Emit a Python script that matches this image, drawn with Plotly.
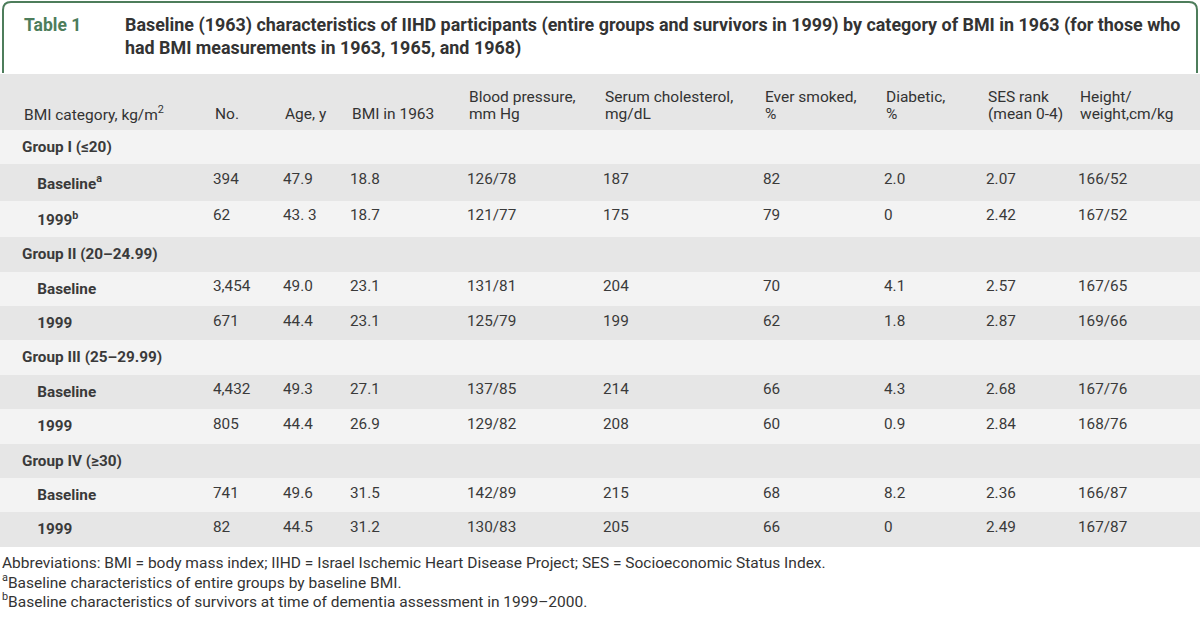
import plotly.graph_objects as go

W, H = 1200, 620

table_label = "Table 1"
title_lines = [
    "Baseline (1963) characteristics of IIHD participants (entire groups and survivors in 1999) by category of BMI in 1963 (for those who",
    "had BMI measurements in 1963, 1965, and 1968)",
]

headers = [
    ["", "BMI category, kg/m<sup>2</sup>"], ["", "No."], ["", "Age, y"], ["", "BMI in 1963"],
    ["Blood pressure,", "mm Hg"], ["Serum cholesterol,", "mg/dL"], ["Ever smoked,", "%"],
    ["Diabetic,", "%"], ["SES rank", "(mean 0-4)"], ["Height/", "weight,cm/kg"],
]

groups = ["Group I (≤20)", "Group II (20–24.99)", "Group III (25–29.99)", "Group IV (≥30)"]
sub_labels = [["Baseline<sup>a</sup>", "1999<sup>b</sup>"], ["Baseline", "1999"], ["Baseline", "1999"], ["Baseline", "1999"]]

n_count = [["394", "62"], ["3,454", "671"], ["4,432", "805"], ["741", "82"]]
age = [["47.9", "43. 3"], ["49.0", "44.4"], ["49.3", "44.4"], ["49.6", "44.5"]]
bmi = [["18.8", "18.7"], ["23.1", "23.1"], ["27.1", "26.9"], ["31.5", "31.2"]]
bp = [["126/78", "121/77"], ["131/81", "125/79"], ["137/85", "129/82"], ["142/89", "130/83"]]
chol = [["187", "175"], ["204", "199"], ["214", "208"], ["215", "205"]]
smoked = [["82", "79"], ["70", "62"], ["66", "60"], ["68", "66"]]
diabetic = [["2.0", "0"], ["4.1", "1.8"], ["4.3", "0.9"], ["8.2", "0"]]
ses = [["2.07", "2.42"], ["2.57", "2.87"], ["2.68", "2.84"], ["2.36", "2.49"]]
hw = [["166/52", "167/52"], ["167/65", "169/66"], ["167/76", "168/76"], ["166/87", "167/87"]]

footnotes = [
    "Abbreviations: BMI = body mass index; IIHD = Israel Ischemic Heart Disease Project; SES = Socioeconomic Status Index.",
    "<sup>a</sup>Baseline characteristics of entire groups by baseline BMI.",
    "<sup>b</sup>Baseline characteristics of survivors at time of dementia assessment in 1999–2000.",
]

# ---- build table columns ----
NB = "\u00a0"
label_col = []
value_cols = [[] for _ in range(9)]
series = [n_count, age, bmi, bp, chol, smoked, diabetic, ses, hw]
for gi, g in enumerate(groups):
    label_col.append("<b>" + g + "</b>")
    for c in value_cols:
        c.append("")
    for si in range(2):
        label_col.append(NB * 4 + "<b>" + sub_labels[gi][si] + "</b>")
        for ci, s in enumerate(series):
            value_cols[ci].append(s[gi][si])

nrows = len(label_col)
spacer = [""] * nrows
columns = [spacer, label_col] + value_cols

LIGHT, GRAY = "#f3f3f3", "#e6e6e6"
row_colors = [LIGHT if i % 2 == 0 else GRAY for i in range(nrows)]
fill = [row_colors for _ in columns]

col_widths = [14, 191, 70, 67, 117, 136, 160, 121, 102, 92, 130]

FONT = "Roboto"
TXT = "#3a3a3a"
HEAD_TOP = 74

def py(px):
    return 1 - px / H

def px_x(px):
    return px / W

fig = go.Figure()
fig.add_trace(go.Table(
    domain=dict(x=[0, 1], y=[0.05, py(HEAD_TOP)]),
    columnwidth=col_widths,
    header=dict(
        values=[""] * len(columns),
        fill=dict(color=GRAY),
        line=dict(width=0, color=GRAY),
        align="left",
        height=56,
        font=dict(family=FONT, size=15, color="#333333"),
    ),
    cells=dict(
        values=columns,
        fill=dict(color=fill),
        line=dict(width=0, color=fill),
        align="left",
        height=34.4,
        font=dict(family=FONT, size=15.3, color=TXT),
    ),
))

# header labels placed over the table header, at the column starts
lefts = []
acc = 0
for w in col_widths:
    lefts.append(acc)
    acc += w
for ci, (l1, l2) in enumerate(headers):
    xl = lefts[ci + 1] + 8
    for li, t in enumerate((l1, l2)):
        if not t:
            continue
        fig.add_annotation(x=px_x(xl), y=py(97 + 16.5 * li), xref="paper", yref="paper",
                           xanchor="left", yanchor="middle", text=t, showarrow=False,
                           font=dict(family=FONT, size=15.5, color="#333333"))

GREEN = "#4d7d5b"
r = 8
x0, x1, y0, y1 = 3, 1197, 2, 73
path = (f"M {px_x(x0)},{py(y1)} L {px_x(x0)},{py(y0 + r)} "
        f"Q {px_x(x0)},{py(y0)} {px_x(x0 + r)},{py(y0)} "
        f"L {px_x(x1 - r)},{py(y0)} Q {px_x(x1)},{py(y0)} {px_x(x1)},{py(y0 + r)} "
        f"L {px_x(x1)},{py(y1)}")
fig.add_shape(type="path", path=path, xref="paper", yref="paper",
              line=dict(color=GREEN, width=2))

fig.add_annotation(x=px_x(22), y=py(25), xref="paper", yref="paper", xanchor="left", yanchor="middle",
                   text="<b>" + table_label + "</b>", showarrow=False,
                   font=dict(family=FONT, size=17.5, color=GREEN))
for i, line in enumerate(title_lines):
    fig.add_annotation(x=px_x(123), y=py(25 + 23 * i), xref="paper", yref="paper", xanchor="left",
                       yanchor="middle", text="<b>" + line + "</b>", showarrow=False,
                       font=dict(family=FONT, size=17.9, color="#333333"))

for i, line in enumerate(footnotes):
    fig.add_annotation(x=0, y=py(563 + 18.5 * i), xref="paper", yref="paper", xanchor="left",
                       yanchor="middle", text=line, showarrow=False,
                       font=dict(family=FONT, size=15.5, color="#333333"))

fig.update_layout(
    width=W, height=H,
    margin=dict(l=0, r=0, t=0, b=0),
    paper_bgcolor="white", plot_bgcolor="white",
    showlegend=False,
)

fig.write_html("out.html", config={"displayModeBar": False},
               post_script="document.body.style.margin='0';")
